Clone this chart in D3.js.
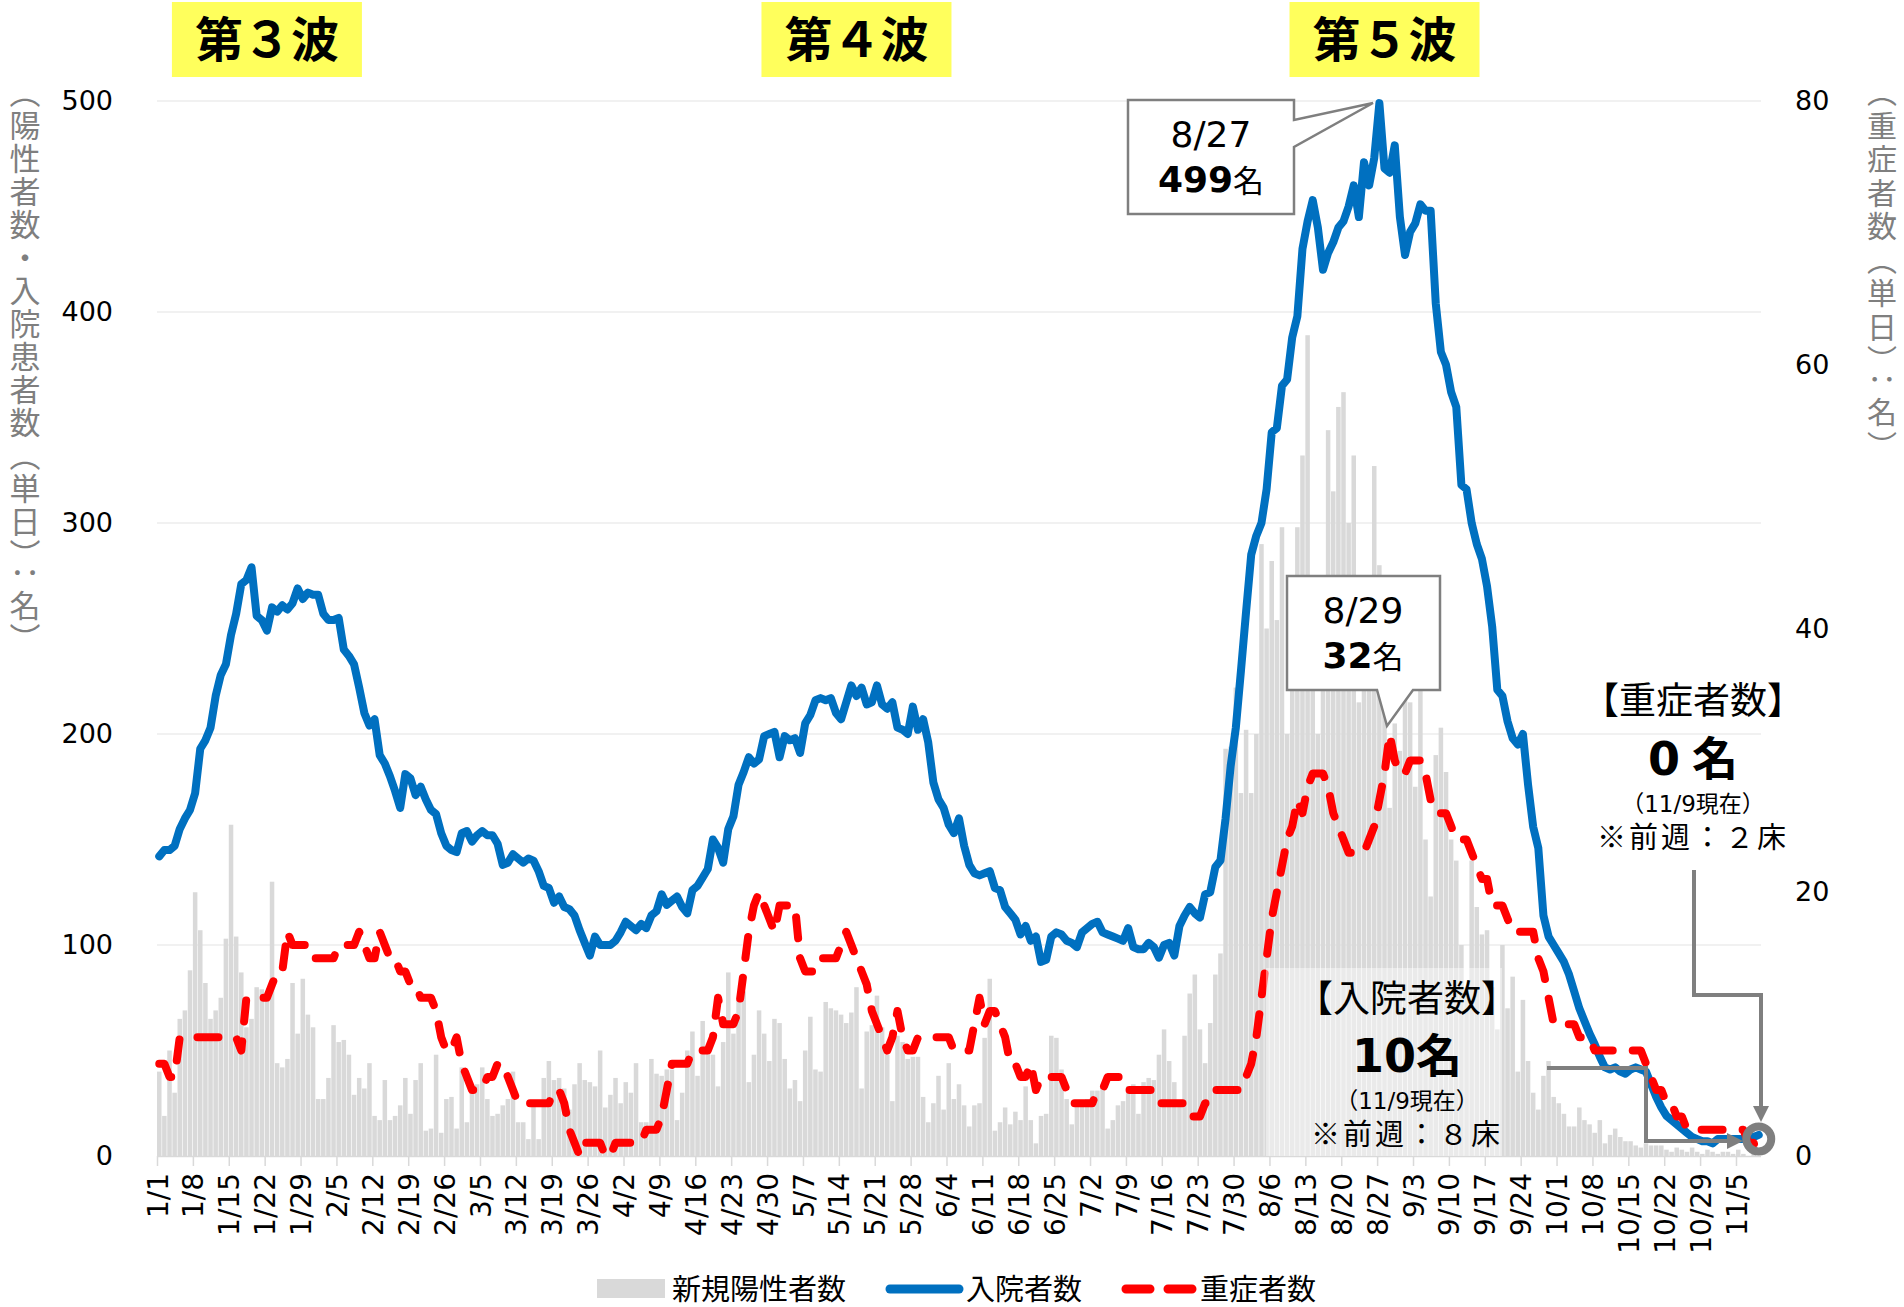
<!DOCTYPE html>
<html><head><meta charset="utf-8">
<script src="https://cdn.jsdelivr.net/npm/d3@7"></script>
<style>body{margin:0;background:#fff;}svg{display:block;}</style>
</head><body>
<svg id="c" width="1904" height="1307"></svg>
<script>
// ---------------- DATA ----------------
const firstDay = new Date(2021, 0, 1);
const lastDay = new Date(2021, 10, 9);
// 新規陽性者数 (daily, 1/1 .. 11/9)
const newCases = [
 40,19,50,30,65,69,88,125,107,82,65,69,75,103,157,104,87,61,65,80,79,76,130,44,42,46,82,58,84,67,61, // Jan
 27,27,37,62,54,55,48,29,37,32,44,19,17,36,17,19,24,37,20,36,44,12,13,48,11,27,28,13, // Feb
 42,16,33,34,42,27,19,20,24,27,40,16,16,8,24,8,37,45,36,37,32,22,34,44,36,35,33,50,23,29,37, // Mar
 25,35,30,44,16,16,46,39,38,41,41,17,30,50,59,38,64,50,48,33,54,87,58,74,78,35,48,69,58,45, // Apr
 65,63,46,32,36,26,50,66,41,40,73,70,69,67,63,68,80,32,59,62,76,61,48,26,57,54,46,47,47,28,16, // May
 25,38,22,44,27,34,24,14,24,25,56,84,12,16,23,15,21,17,33,17,6,19,20,57,56,41,27,15,26,26, // Jun
 27,31,31,34,13,17,24,26,33,34,20,35,37,36,48,60,45,35,25,57,77,86,60,44,63,86,96,193,194,222,172, // Jul
 202,172,200,290,250,282,254,298,200,268,298,332,389,265,200,262,344,315,355,362,300,332,215,240,265,327,280,230,165,205,192, // Aug
 225,215,175,221,150,123,190,203,182,150,140,100,80,140,118,105,107,80,60,100,70,85,40,74,45,30,22,38,45,28, // Sep
 25,20,14,14,23,17,15,11,17,6,10,13,9,7,7,5,4,6,5,5,5,3,2,4,3,2,4,2,1,3,2, // Oct
 1,2,2,1,3,1,0,1,0 // Nov
];
// 入院者数
const hospitalized = [
 142,145,145,147,155,160,164,172,193,197,203,218,228,233,247,257,271,273,279,256,254,249,260,258,261,259,262,269,264,267,266,
 266,257,254,254,255,240,237,233,222,210,204,207,190,186,180,173,165,181,179,171,175,169,164,162,153,147,145,144,
 153,154,149,152,154,152,152,148,138,139,143,141,139,141,140,135,128,127,120,123,118,117,114,107,101,95,104,100,100,100,102,
 106,111,109,107,110,108,114,116,124,119,121,123,118,115,126,128,132,136,150,146,139,155,161,176,182,189,186,188,199,200,
 201,189,199,197,198,191,205,209,216,217,216,217,210,207,215,223,218,222,214,215,223,214,212,215,203,202,200,213,202,207,196,
 177,169,165,157,153,160,147,138,134,133,134,135,127,126,118,115,112,105,109,102,104,92,93,104,106,105,102,101,99,106,
 108,110,111,106,105,104,103,102,108,99,98,98,101,99,94,100,101,95,109,114,118,115,113,124,125,137,140,160,185,203,230,
 258,285,294,300,316,343,345,365,368,388,398,430,443,453,440,420,428,433,440,443,450,460,445,471,460,473,499,468,466,479,445,
 427,438,442,451,448,448,404,381,375,362,355,318,316,300,290,283,270,251,221,218,206,198,195,200,176,156,146,114,104,100,
 96,92,86,78,70,64,58,53,47,42,41,42,40,39,41,42,41,40,34,28,23,19,17,15,13,11,9,8,7,7,6,
 8,8,8,8,8,8,9,9,10
];
// 重症者数 (right axis)
const severe = [
 7,7,6,6,9,9,9,9,9,9,9,9,9,9,9,9,8,12,12,12,12,12,13,14,14,17,16,16,16,16,15,
 15,15,15,15,16,16,16,16,17,16,15,15,17,16,15,15,14,14,13,13,12,12,12,11,9,8,8,9,
 7,6,5,5,5,6,6,7,7,6,5,4,4,4,4,4,4,4,5,5,4,2,1,0,1,1,1,1,0,0,1,
 1,1,1,1,1,2,2,2,3,5,7,7,7,7,8,8,8,8,9,12,10,10,10,11,14,17,19,20,19,18,
 17,19,19,19,19,15,14,14,14,15,15,15,15,16,17,16,15,14,13,11,10,9,8,9,11,9,8,8,9,9,9,
 9,9,9,9,8,8,8,8,10,12,10,11,11,10,9,7,7,6,6,7,5,6,6,6,6,6,5,4,4,4,
 4,4,5,5,6,6,6,6,5,5,5,5,5,5,4,4,4,4,4,4,3,3,3,4,4,5,5,5,5,5,5,
 6,7,9,12,15,18,20,22,24,25,27,26,28,29,29,29,28,26,25,24,23,23,23,23,24,25,27,29,32,30,29,
 29,30,30,30,29,27,26,26,26,25,24,24,24,23,22,21,21,19,19,19,18,17,17,17,17,17,15,14,12,10,
 10,10,10,10,9,9,9,8,8,8,8,8,8,8,8,8,8,7,6,5,5,4,4,3,3,2,2,2,2,2,2,
 2,2,2,2,2,2,1,1,0
];
const leftTicks = [0,100,200,300,400,500];
const rightTicks = [0,20,40,60,80];
const waveNames = ["第３波","第４波","第５波"];
const waveDays = [21, 136, 239];
const legendNames = ["新規陽性者数","入院者数","重症者数"];

// ---------------- LAYOUT ----------------
const svg = d3.select("#c");
const FJ = "'Noto Sans CJK JP', sans-serif";
const FN = "'DejaVu Sans', 'Noto Sans CJK JP', sans-serif";
const GRAY = "#7f7f7f";
const days = d3.timeDay.range(firstDay, d3.timeDay.offset(lastDay, 1));
const idx = d3.range(days.length);
const L = 157, R = 1761, T = 101, B = 1156;

const x = d3.scaleBand().domain(idx).range([L, R]).paddingInner(0.12);
const cx = i => x(i) + x.bandwidth() / 2;
const yL = d3.scaleLinear().domain([0, 500]).range([B, T]);
const yR = d3.scaleLinear().domain([0, 80]).range([B, T]);

// gridlines
svg.append("g").selectAll("line").data(leftTicks.filter(d => d > 0)).join("line")
  .attr("x1", L).attr("x2", R).attr("y1", d => yL(d)).attr("y2", d => yL(d))
  .attr("stroke", "#e3e3e3").attr("stroke-width", 1.2);

// bars
svg.append("g").selectAll("rect").data(newCases).join("rect")
  .attr("x", (d, i) => x(i)).attr("width", x.bandwidth())
  .attr("y", d => yL(d)).attr("height", d => B - yL(d))
  .attr("fill", "#d9d9d9");

// x axis
const weekly = idx.filter(i => i % 7 === 0);
const xAxis = d3.axisBottom(d3.scalePoint().domain(weekly).range([x(0), x(weekly[weekly.length-1])]))
  .tickSize(10).tickFormat(i => `${days[i].getMonth()+1}/${days[i].getDate()}`);
const gx = svg.append("g").attr("transform", `translate(0,${B})`).call(xAxis);
gx.select(".domain").attr("d", `M${L},0.5H${R}`).attr("stroke", "#d9d9d9").attr("stroke-width", 1.5);
gx.selectAll(".tick line").attr("stroke", "#d9d9d9").attr("stroke-width", 1.5);
gx.selectAll(".tick text")
  .attr("font-family", FN).attr("font-size", 28).attr("fill", "#000")
  .attr("transform", "rotate(-90)").attr("text-anchor", "end")
  .attr("x", -17).attr("y", 0).attr("dy", "0.36em");

// left axis
const gl = svg.append("g").attr("transform", `translate(${L},0)`)
  .call(d3.axisLeft(yL).tickValues(leftTicks).tickSize(0).tickPadding(44));
gl.select(".domain").remove();
gl.selectAll("text").attr("font-family", FN).attr("font-size", 27).attr("fill", "#000");

// right axis
const gr = svg.append("g").attr("transform", `translate(${R},0)`)
  .call(d3.axisRight(yR).tickValues(rightTicks).tickSize(0).tickPadding(34));
gr.select(".domain").remove();
gr.selectAll("text").attr("font-family", FN).attr("font-size", 27).attr("fill", "#000");

// lines
const lineH = d3.line().x((d, i) => cx(i)).y(d => yL(d));
const lineS = d3.line().x((d, i) => cx(i)).y(d => yR(d));
svg.append("path").attr("d", lineH(hospitalized)).attr("fill", "none")
  .attr("stroke", "#0070c0").attr("stroke-width", 8).attr("stroke-linejoin", "round").attr("stroke-linecap", "round");
svg.append("path").attr("d", lineS(severe)).attr("fill", "none")
  .attr("stroke", "#ff0000").attr("stroke-width", 8).attr("stroke-linejoin", "round")
  .attr("stroke-linecap", "round").attr("stroke-dasharray", "21 20");

// semi-transparent box for 入院者数 note
svg.append("rect").attr("x", 1266).attr("y", 968).attr("width", 236).attr("height", B - 968)
  .attr("fill", "#ffffff").attr("fill-opacity", 0.45);

// callout 8/27
svg.append("path").attr("d", "M1128,100H1294V120L1373,103L1294,147V214H1128Z")
  .attr("fill", "#fff").attr("stroke", GRAY).attr("stroke-width", 2.5);
svg.append("text").attr("x", 1211).attr("y", 147).attr("text-anchor", "middle")
  .attr("font-family", FN).attr("font-size", 36).text("8/27");
const t1 = svg.append("text").attr("x", 1211).attr("y", 192).attr("text-anchor", "middle");
t1.append("tspan").attr("font-family", FN).attr("font-weight", "bold").attr("font-size", 36).text("499");
t1.append("tspan").attr("font-family", FJ).attr("font-size", 31).text("名");

// callout 8/29
svg.append("path").attr("d", "M1287,576H1440V690H1413L1387,726L1377,690H1287Z")
  .attr("fill", "#fff").attr("stroke", GRAY).attr("stroke-width", 2.5);
svg.append("text").attr("x", 1363).attr("y", 623).attr("text-anchor", "middle")
  .attr("font-family", FN).attr("font-size", 36).text("8/29");
const t2 = svg.append("text").attr("x", 1363).attr("y", 668).attr("text-anchor", "middle");
t2.append("tspan").attr("font-family", FN).attr("font-weight", "bold").attr("font-size", 36).text("32");
t2.append("tspan").attr("font-family", FJ).attr("font-size", 31).text("名");

// annotation texts
function note(cxp, ys, title, big, gap, sub, prev) {
  svg.append("text").attr("x", cxp).attr("y", ys[0]).attr("text-anchor", "middle")
    .attr("font-family", FJ).attr("font-size", 37).text(title);
  const b = svg.append("text").attr("x", cxp).attr("y", ys[1]).attr("text-anchor", "middle");
  b.append("tspan").attr("font-family", FN).attr("font-weight", "bold").attr("font-size", 46).text(big);
  b.append("tspan").attr("dx", gap).attr("font-family", FJ).attr("font-weight", "bold").attr("font-size", 46).text("名");
  svg.append("text").attr("x", cxp).attr("y", ys[2]).attr("text-anchor", "middle")
    .attr("font-family", FN).attr("font-size", 23).text(sub);
  svg.append("text").attr("x", cxp).attr("y", ys[3]).attr("text-anchor", "middle")
    .attr("font-family", FJ).attr("font-size", 29).attr("letter-spacing", 3).text(prev);
}
note(1407, [1012, 1072, 1109, 1145], "【入院者数】", "10", 0, "（11/9現在）", "※前週：８床");
note(1693, [714, 775, 812, 848], "【重症者数】", "0", 12, "（11/9現在）", "※前週：２床");

// connectors
const conn = svg.append("g").attr("fill", "none").attr("stroke", GRAY).attr("stroke-width", 4);
conn.append("path").attr("d", "M1547,1068H1646V1141H1730");
conn.append("path").attr("d", "M1694,870V995H1761V1108");
svg.append("path").attr("d", "M1743,1141L1727,1133L1727,1149Z").attr("fill", GRAY);
svg.append("path").attr("d", "M1761,1122L1753,1106L1769,1106Z").attr("fill", GRAY);
svg.append("circle").attr("cx", cx(days.length - 1)).attr("cy", 1139).attr("r", 12.5)
  .attr("fill", "none").attr("stroke", GRAY).attr("stroke-width", 8);

// wave labels
waveNames.forEach((w, k) => {
  const c = cx(waveDays[k]);
  svg.append("rect").attr("x", c - 95).attr("y", 2).attr("width", 190).attr("height", 75).attr("fill", "#ffff5c");
  svg.append("text").attr("x", c).attr("y", 57).attr("text-anchor", "middle")
    .attr("font-family", FJ).attr("font-weight", "bold").attr("font-size", 48).text(w);
});

// axis titles (vertical)
svg.append("text").attr("x", 25).attr("y", 77)
  .attr("style", "writing-mode: vertical-rl; text-orientation: mixed;")
  .attr("font-family", FJ).attr("font-size", 31).attr("letter-spacing", 2).attr("fill", GRAY)
  .text("（陽性者数・入院患者数（単日）：名）");
svg.append("text").attr("x", 1882).attr("y", 77)
  .attr("style", "writing-mode: vertical-rl; text-orientation: mixed;")
  .attr("font-family", FJ).attr("font-size", 30).attr("letter-spacing", 3.5).attr("fill", GRAY)
  .text("（重症者数（単日）：名）");

// legend
const lg = svg.append("g");
lg.append("rect").attr("x", 597).attr("y", 1279).attr("width", 68).attr("height", 19).attr("fill", "#d9d9d9");
lg.append("line").attr("x1", 890).attr("x2", 959).attr("y1", 1289).attr("y2", 1289)
  .attr("stroke", "#0070c0").attr("stroke-width", 9).attr("stroke-linecap", "round");
lg.append("line").attr("x1", 1126).attr("x2", 1192).attr("y1", 1289).attr("y2", 1289)
  .attr("stroke", "#ff0000").attr("stroke-width", 9).attr("stroke-linecap", "round").attr("stroke-dasharray", "24 18");
[[672, legendNames[0]], [966, legendNames[1]], [1200, legendNames[2]]].forEach(([lx, t]) => {
  lg.append("text").attr("x", lx).attr("y", 1300).attr("font-family", FJ).attr("font-size", 29).attr("fill", "#000").text(t);
});
</script>
</body></html>
